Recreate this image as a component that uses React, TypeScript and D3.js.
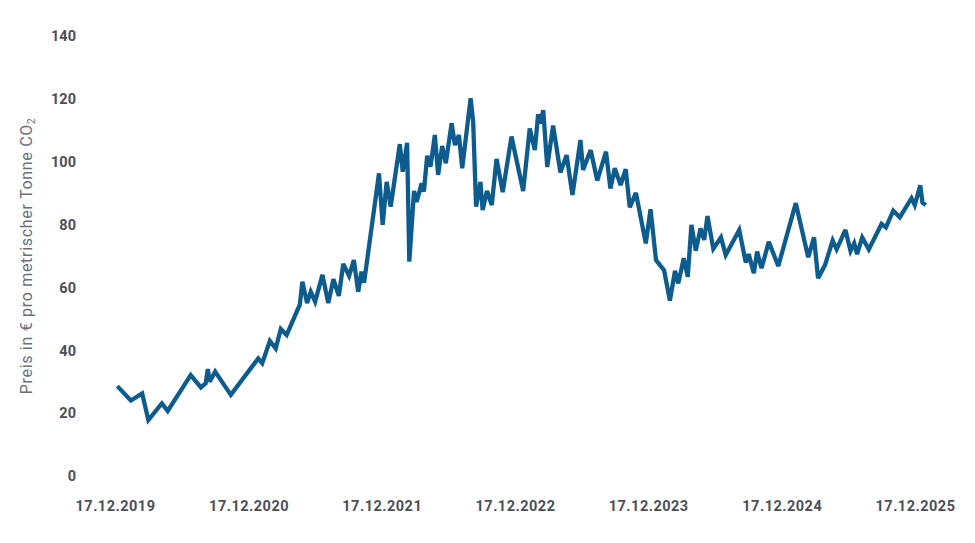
import React, { useEffect, useRef } from "react";
import * as d3 from "d3";

const dates: string[] = [
  "2019-12-22","2020-01-28","2020-02-28","2020-03-16","2020-04-22","2020-05-08","2020-07-10","2020-08-07","2020-08-20","2020-08-26",
  "2020-08-31","2020-09-15","2020-10-28","2021-01-11","2021-01-22","2021-02-12","2021-02-28","2021-03-14","2021-03-30","2021-05-05",
  "2021-05-12","2021-05-25","2021-06-04","2021-06-16","2021-07-06","2021-07-22","2021-08-05","2021-08-20","2021-09-01","2021-09-17",
  "2021-09-30","2021-10-12","2021-10-21","2021-10-28","2021-12-08","2021-12-18","2021-12-29","2022-01-09","2022-02-03","2022-02-11",
  "2022-02-23","2022-03-01","2022-03-14","2022-03-21","2022-04-04","2022-04-10","2022-04-19","2022-04-28","2022-05-10","2022-05-19",
  "2022-05-30","2022-06-09","2022-06-25","2022-07-04","2022-07-15","2022-07-24","2022-08-16","2022-08-23","2022-08-31","2022-09-12",
  "2022-09-18","2022-09-30","2022-10-13","2022-10-26","2022-11-12","2022-12-06","2023-01-07","2023-01-25","2023-02-08","2023-02-17",
  "2023-02-24","2023-03-03","2023-03-14","2023-03-30","2023-04-19","2023-05-06","2023-05-22","2023-06-13","2023-06-20","2023-07-11",
  "2023-07-29","2023-08-22","2023-09-03","2023-09-15","2023-10-01","2023-10-15","2023-10-26","2023-11-12","2023-12-09","2023-12-22",
  "2024-01-06","2024-01-28","2024-02-13","2024-02-27","2024-03-07","2024-03-22","2024-04-02","2024-04-12","2024-04-24","2024-05-07",
  "2024-05-17","2024-05-26","2024-06-11","2024-07-02","2024-07-15","2024-08-21","2024-09-08","2024-09-16","2024-09-30","2024-10-09",
  "2024-10-21","2024-11-10","2024-12-06","2025-01-23","2025-02-26","2025-03-14","2025-03-25","2025-04-13","2025-05-04","2025-05-15",
  "2025-06-08","2025-06-22","2025-07-02","2025-07-10","2025-07-24","2025-08-11","2025-09-15","2025-09-27","2025-10-17","2025-11-04",
  "2025-12-06","2025-12-15","2025-12-30","2026-01-05","2026-01-14",
];

const prices: number[] = [
  28.6,24.0,26.3,17.8,23.1,20.7,32.1,28.2,29.5,34.0,
  30.0,33.2,25.8,37.4,35.9,43.0,40.6,46.8,44.9,54.5,
  61.8,55.0,58.6,55.5,64.0,55.0,62.6,57.3,67.5,63.7,
  68.7,58.6,65.0,61.5,96.3,79.9,93.6,85.7,105.6,96.8,
  106.0,68.2,90.7,87.2,93.1,90.5,101.9,98.4,108.5,95.8,
  105.0,99.5,112.2,105.3,108.5,97.9,120.2,112.7,85.7,93.6,
  84.6,90.7,86.2,100.9,90.3,108.0,90.7,110.6,103.7,115.1,
  112.2,116.4,98.3,111.5,96.6,102.1,89.4,106.9,97.4,103.7,
  94.0,103.2,91.5,97.9,92.6,97.6,85.5,90.1,74.0,84.9,
  68.7,65.5,55.8,65.3,61.3,69.3,63.4,79.9,71.7,78.8,
  75.1,82.7,72.3,75.9,70.3,78.3,67.9,70.6,64.5,71.4,
  66.1,74.5,66.8,86.8,69.6,75.9,62.9,67.1,74.9,72.1,
  78.3,71.6,74.0,70.6,75.9,72.1,80.2,79.1,84.4,82.3,
  88.4,86.2,92.5,87.0,86.2,
];

const yTicks: number[] = [0, 20, 40, 60, 80, 100, 120, 140];
const xTickDates: string[] = ["2019-12-17","2020-12-17","2021-12-17","2022-12-17","2023-12-17","2024-12-17","2025-12-17"];
const yLabel = "Preis in € pro metrischer Tonne CO";

export default function App() {
  const ref = useRef<SVGSVGElement>(null);

  useEffect(() => {
    const svg = d3.select(ref.current);
    svg.selectAll("*").remove();
    const parse = d3.utcParse("%Y-%m-%d");
    const fmt = d3.utcFormat("%d.%m.%Y");

    const x = d3.scaleUtc()
      .domain([parse("2019-12-17")!, parse("2025-12-17")!])
      .range([115.5, 915.5]);
    const y = d3.scaleLinear().domain([0, 140]).range([476, 36]);

    const data = dates.map((d, i) => ({ date: parse(d)!, v: prices[i] }));

    svg.append("g")
      .selectAll("text")
      .data(yTicks)
      .join("text")
      .attr("x", 76)
      .attr("y", (d) => y(d))
      .attr("dy", "0.36em")
      .attr("text-anchor", "end")
      .attr("font-family", "Roboto, 'Noto Sans', sans-serif")
      .attr("font-weight", 700)
      .attr("font-size", 14.5)
      .attr("fill", "#4b4f57")
      .text((d) => String(d));

    svg.append("g")
      .selectAll("text")
      .data(xTickDates.map((d) => parse(d)!))
      .join("text")
      .attr("x", (d) => x(d))
      .attr("y", 511)
      .attr("text-anchor", "middle")
      .attr("font-family", "Roboto, 'Noto Sans', sans-serif")
      .attr("font-weight", 700)
      .attr("font-size", 14.5)
      .attr("letter-spacing", 0.5)
      .attr("fill", "#4b4f57")
      .text((d) => fmt(d));

    const t = svg.append("text")
      .attr("transform", "translate(32,256) rotate(-90)")
      .attr("text-anchor", "middle")
      .attr("font-family", "Roboto, 'Noto Sans', sans-serif")
      .attr("font-size", 16)
      .attr("letter-spacing", 0.7)
      .attr("fill", "#6b7079");
    t.append("tspan").text(yLabel);
    t.append("tspan").attr("font-size", 10).attr("dy", 3).text("2");

    const line = d3.line<{ date: Date; v: number }>()
      .x((d) => x(d.date))
      .y((d) => y(d.v));

    svg.append("path")
      .datum(data)
      .attr("d", line)
      .attr("fill", "none")
      .attr("stroke", "#0e5c8d")
      .attr("stroke-width", 4.3)
      .attr("stroke-linejoin", "miter")
      .attr("stroke-miterlimit", 3);
  }, []);

  return (
    <div style={{ position: "absolute", left: 0, top: 0 }}>
      <svg ref={ref} width={975} height={543} style={{ display: "block", background: "#fff" }} />
    </div>
  );
}
